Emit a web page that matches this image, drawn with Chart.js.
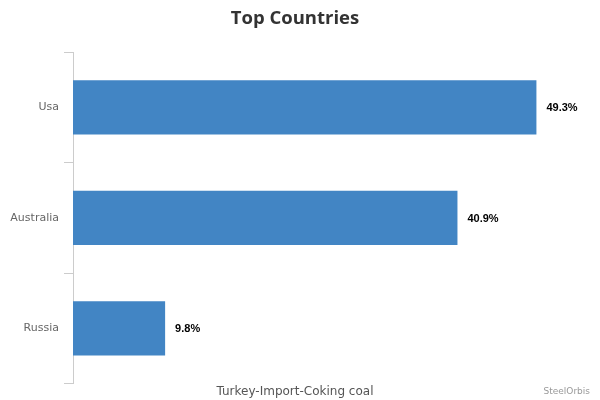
<!DOCTYPE html>
<html>
<head>
<meta charset="utf-8">
<script src="https://cdn.jsdelivr.net/npm/chart.js@4/dist/chart.umd.min.js"></script>
<style>
  html, body { margin: 0; padding: 0; background: #fff; }
  #wrap { width: 600px; height: 400px; position: relative; }
</style>
</head>
<body>
<div id="wrap"><canvas id="c"></canvas></div>
<script>
const categories = ["Usa", "Australia", "Russia"];
const shares = [49.3, 40.9, 9.8];
const titleText = "Top Countries";
const axisTitle = "Turkey-Import-Coking coal";
const creditText = "SteelOrbis";

const labelPlugin = {
  id: 'barLabels',
  afterDatasetsDraw(chart) {
    const ctx = chart.ctx;
    const meta = chart.getDatasetMeta(0);
    ctx.save();
    ctx.font = 'bold 11px "Liberation Sans", Arial, sans-serif';
    ctx.fillStyle = '#000';
    ctx.textAlign = 'left';
    ctx.textBaseline = 'middle';
    meta.data.forEach((bar, i) => {
      ctx.fillText(shares[i].toFixed(1) + '%', bar.x + 10, bar.y + 1);
    });
    ctx.restore();
  },
  afterDraw(chart) {
    const ctx = chart.ctx;
    ctx.save();
    ctx.font = '9px "DejaVu Sans", sans-serif';
    ctx.fillStyle = '#999';
    ctx.textAlign = 'right';
    ctx.textBaseline = 'middle';
    ctx.fillText(creditText, 590, 392);
    ctx.restore();
  }
};

new Chart(document.getElementById('c'), {
  type: 'bar',
  data: {
    labels: categories,
    datasets: [{
      data: shares,
      backgroundColor: '#4285c4',
      borderWidth: 0,
      barPercentage: 0.49,
      categoryPercentage: 1.0
    }]
  },
  options: {
    indexAxis: 'y',
    responsive: true,
    maintainAspectRatio: false,
    animation: false,
    layout: { padding: { left: 0, right: 10, top: 0, bottom: 1 } },
    plugins: {
      legend: { display: false },
      tooltip: { enabled: false },
      title: {
        display: true,
        text: titleText,
        color: '#333',
        font: { family: '"Open Sans", sans-serif', size: 18.5, weight: 'bold' },
        padding: { top: 8, bottom: 22 }
      },
      subtitle: {
        display: true,
        position: 'bottom',
        text: axisTitle,
        color: '#555',
        font: { family: '"DejaVu Sans", sans-serif', size: 12 },
        padding: { top: 1, bottom: 0 }
      }
    },
    scales: {
      x: {
        display: false,
        min: 0,
        max: 55
      },
      y: {
        afterFit(scale) { scale.width = 73; },
        grid: {
          offset: true,
          drawOnChartArea: false,
          drawTicks: true,
          tickLength: 9,
          color: '#ccc'
        },
        border: { display: true, color: '#ccc' },
        ticks: {
          color: '#666',
          padding: 5,
          font: { family: '"DejaVu Sans", sans-serif', size: 11 }
        }
      }
    }
  },
  plugins: [labelPlugin]
});
</script>
</body>
</html>
